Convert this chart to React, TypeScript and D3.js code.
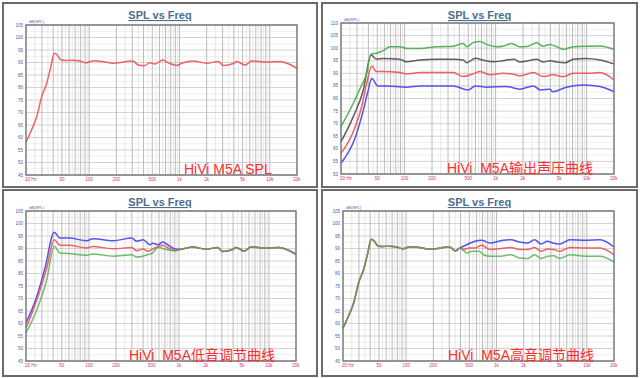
import React from 'react';
import * as d3 from 'd3';

type Pt = [number, number];

const TITLE = 'SPL vs Freq';
const FREQ_TICKS = [20, 50, 100, 200, 500, 1000, 2000, 5000, 10000, 20000];
const FREQ_TICK_LABELS = ['20 Hz', '50', '100', '200', '500', '1k', '2k', '5k', '10k', '20k'];
const Y_DOMAIN_A: [number, number] = [45, 105];
const Y_DOMAIN_B: [number, number] = [50, 110];

// Base response (panel 1)
const baseCurve: Pt[] = [
  [20, 58.1], [23, 63], [26.3, 68.3], [29.8, 76.3], [33.9, 81.7], [37.5, 88], [41.2, 93.7], [44, 93.1],
  [48.8, 91], [55, 90.8], [65, 90.9], [79, 90.6], [92, 89.9], [105, 90.5], [116, 90.7], [140, 90.4],
  [185, 89.7], [240, 90.2], [283, 90.6], [308, 90.5], [350, 89], [405, 88.7], [472, 89.9], [536, 89.4],
  [651, 91], [752, 89.9], [931, 88.8], [1059, 89.7], [1425, 90.6], [2000, 89.7], [2692, 90.4],
  [3057, 88.8], [3946, 89.6], [4300, 90.4], [5325, 89], [6310, 90.6], [9250, 90.2], [12980, 90.4],
  [16000, 89.5], [20000, 87.7],
];

// Panel 2: output SPL at four levels
const p2Green: Pt[] = [
  [20, 68.8], [27.3, 78.1], [32.4, 84], [38.3, 90], [42.7, 97.6], [49, 98], [58.3, 99], [69, 100.6],
  [88.7, 100.6], [105, 99.9], [148, 99.9], [225, 100.6], [343, 100.8], [441, 101.9], [481, 100.6],
  [569, 102.2], [673, 102.6], [797, 101.5], [1028, 100.6], [1200, 100.8], [1502, 101.9], [1838, 100.6],
  [2290, 100.8], [2835, 102.2], [3290, 100.8], [3960, 101.5], [4700, 100.6], [5550, 99.5], [7150, 100.6],
  [10000, 100.8], [14000, 100.9], [20000, 99.5],
];
const p2Black: Pt[] = [
  [20, 62.8], [27.3, 72.8], [35.2, 83.4], [42.7, 97.3], [49, 95.6], [58, 95.9], [88.7, 95.6], [105, 94.6],
  [148, 95.3], [225, 95.6], [343, 95.6], [441, 95.3], [481, 94.2], [600, 96], [720, 95.3], [950, 94.6],
  [1200, 95], [1600, 95.6], [1838, 94.5], [2290, 95], [2835, 95.6], [3350, 94.5], [3960, 95], [4700, 94.5],
  [5800, 94.2], [7150, 95.6], [10000, 95.9], [14000, 95.3], [20000, 93.7],
];
const p2Red: Pt[] = [
  [20, 58.2], [27.3, 66.8], [33.7, 76.7], [38.3, 86], [43.5, 92.9], [49, 90.7], [58, 90.7], [88.7, 90.3],
  [105, 89.7], [148, 90.3], [343, 90.3], [441, 88.7], [569, 89.8], [673, 90.7], [880, 89.4], [1200, 90],
  [1500, 89.8], [1838, 89], [2600, 90.3], [3350, 88.7], [4250, 89.4], [5550, 88.7], [7150, 90],
  [10000, 90], [14000, 90.3], [20000, 87.4],
];
const p2Blue: Pt[] = [
  [20, 54.3], [28.5, 64.2], [35.2, 75.4], [39.9, 83.4], [43.5, 87.9], [51, 85], [63, 85], [105, 84.5],
  [148, 85], [343, 85], [500, 83.4], [600, 85], [800, 84.5], [1300, 84.8], [1838, 83.7], [2600, 85],
  [3100, 83.4], [3960, 83.7], [4250, 82.7], [6000, 84.5], [9400, 85.4], [14000, 84.8], [20000, 82.7],
];

// Panel 3: bass adjustment
const p3BlueLow: Pt[] = [
  [20, 60.2], [26.4, 70.9], [32.5, 82.2], [41.2, 96.5], [47.6, 94.2], [60, 94.2], [94.4, 93.1], [111, 93.9],
  [187, 93.1], [299, 94.2], [339, 92.9], [401, 93.5], [477, 91.5], [508, 92.1], [590, 91.5], [658, 92.6],
  [762, 91.3], [905, 89.8],
];
const p3RedLow: Pt[] = [
  [20, 58.2], [26.4, 69.5], [34, 82.2], [41.2, 93.5], [47.6, 91.3], [60, 91.3], [94.4, 90.2], [111, 90.8],
  [187, 89.9], [299, 90.4], [339, 89.1], [401, 89.8], [450, 88.9], [540, 90.2], [658, 91.3], [762, 90.2],
  [905, 89.1],
];
const p3GreenLow: Pt[] = [
  [20, 56.2], [26.4, 65.5], [34, 77.5], [41.2, 90.9], [47.6, 88.2], [60, 88], [94.4, 87.3], [111, 87.8],
  [187, 86.9], [299, 87.5], [339, 86.6], [450, 87.5], [508, 88.2], [590, 90.5], [720, 89.6], [905, 89.1],
];

// Panel 4: treble adjustment
const p4BlueHigh: Pt[] = [
  [393, 90.2], [430, 90.9], [500, 92], [578, 92.9], [685, 93.3], [847, 92.2], [1142, 93.2], [1450, 93.5],
  [1800, 92.6], [2220, 92.2], [2640, 93.5], [3120, 91.8], [3680, 92.9], [4200, 92.2], [5000, 91.8],
  [6520, 93.5], [9600, 93.3], [14000, 93.5], [20000, 90.6],
];
const p4RedHigh: Pt[] = [
  [393, 90.2], [430, 89.6], [500, 90.2], [578, 90.2], [685, 91.3], [847, 89.6], [1142, 90], [1450, 90.4],
  [1800, 89.6], [2220, 89.6], [2640, 90.4], [3120, 88.9], [3680, 89.8], [4300, 89.6], [5000, 88.9],
  [6520, 90.4], [9600, 90.2], [14000, 90.2], [20000, 87.5],
];
const p4GreenHigh: Pt[] = [
  [393, 90.2], [420, 89.6], [470, 88.2], [540, 88.9], [640, 88.9], [720, 87.5], [847, 86.9], [1100, 86.9],
  [1450, 87.5], [1800, 86.2], [2220, 86], [2640, 87.5], [3120, 86], [3680, 86.9], [4300, 87.1],
  [5000, 86], [6520, 87.5], [9600, 86.9], [14000, 86.9], [20000, 84.6],
];

const LABEL1 = 'HiVi M5A SPL';
const LABEL2 = 'HiVi  M5A输出声压曲线';
const LABEL3 = 'HiVi  M5A低音调节曲线';
const LABEL4 = 'HiVi  M5A高音调节曲线';

const RED = '#f05858';
const GREEN = '#4fae4f';
const BLACK = '#555555';
const BLUE = '#4a4af0';

const tail = baseCurve.filter((d) => d[0] > 1000);
const head = baseCurve.filter((d) => d[0] <= 350);

type Series = { pts: Pt[]; color: string; opacity?: number };
type Panel = {
  box: [number, number, number, number];
  plot: [number, number, number, number];
  yDomain: [number, number];
  label: string;
  labelX: number;
  labelY: number;
  series: Series[];
};

const panels: Panel[] = [
  {
    box: [3, 3, 317, 187], plot: [26, 25, 297, 175], yDomain: Y_DOMAIN_A, label: LABEL1, labelX: 184, labelY: 174,
    series: [{ pts: baseCurve, color: RED }],
  },
  {
    box: [322, 3, 637, 187], plot: [341, 23, 614, 174], yDomain: Y_DOMAIN_B, label: LABEL2, labelX: 447, labelY: 173,
    series: [
      { pts: p2Blue, color: BLUE }, { pts: p2Red, color: RED }, { pts: p2Black, color: BLACK }, { pts: p2Green, color: GREEN },
    ],
  },
  {
    box: [3, 190, 317, 376], plot: [26, 211, 296, 361], yDomain: Y_DOMAIN_A, label: LABEL3, labelX: 129, labelY: 360,
    series: [
      { pts: [...p3BlueLow, ...tail], color: BLUE },
      { pts: [...p3RedLow, ...tail], color: RED },
      { pts: [...p3GreenLow, ...tail], color: GREEN, opacity: 0.8 },
    ],
  },
  {
    box: [322, 190, 637, 376], plot: [343, 211, 614, 361], yDomain: Y_DOMAIN_A, label: LABEL4, labelX: 448, labelY: 360,
    series: [
      { pts: [...head, ...p4BlueHigh], color: BLUE },
      { pts: [...head, ...p4RedHigh], color: RED },
      { pts: [...head, ...p4GreenHigh], color: GREEN, opacity: 0.8 },
    ],
  },
];

function PanelView({ p }: { p: Panel }) {
  const [bx0, by0, bx1, by1] = p.box;
  const [px0, py0, px1, py1] = p.plot;
  const x = d3.scaleLog().domain([20, 20000]).range([px0, px1]);
  const y = d3.scaleLinear().domain(p.yDomain).range([py1, py0]);
  const majorY = d3.range(p.yDomain[0], p.yDomain[1] + 0.01, 5);
  const minorY = d3.range(p.yDomain[0] + 2.5, p.yDomain[1], 5);
  const vMajor: number[] = [];
  const vMinor: number[] = [];
  [10, 100, 1000, 10000].forEach((dec) => {
    for (let m = 1; m <= 9; m++) {
      const f = m * dec;
      if (f > 20 && f < 20000) vMajor.push(f);
      const h = (m + 0.5) * dec;
      if (h > 20 && h < 20000 && m >= 2) vMinor.push(h);
    }
  });
  const line = d3.line<Pt>().x((d) => x(d[0])).y((d) => y(d[1])).curve(d3.curveMonotoneX);
  const cx = (bx0 + bx1) / 2;
  return (
    <g>
      <rect x={bx0} y={by0} width={bx1 - bx0} height={by1 - by0} fill="#fff" stroke="#6a6a6a" strokeWidth={2} />
      <text x={cx} y={by0 + 16} textAnchor="middle" fontFamily="Liberation Sans, Arial, sans-serif" fontWeight="bold"
        fontSize={11} fill="#4d6e8e" textDecoration="underline">{TITLE}</text>
      {minorY.map((v) => (
        <line key={'my' + v} x1={px0} x2={px1} y1={y(v)} y2={y(v)} stroke="#ececec" strokeWidth={0.8} />
      ))}
      {vMinor.map((f) => (
        <line key={'vm' + f} x1={x(f)} x2={x(f)} y1={py0} y2={py1} stroke="#e2e2e2" strokeWidth={0.8} />
      ))}
      {majorY.map((v) => (
        <line key={'My' + v} x1={px0} x2={px1} y1={y(v)} y2={y(v)} stroke="#c8c8c8" strokeWidth={0.8} />
      ))}
      {vMajor.map((f) => (
        <line key={'vM' + f} x1={x(f)} x2={x(f)} y1={py0} y2={py1} stroke="#b4b4b4" strokeWidth={0.9} />
      ))}
      {p.series.map((s, i) => (
        <path key={i} d={line(s.pts) || ''} fill="none" stroke={s.color} strokeWidth={1.5} strokeOpacity={s.opacity ?? 0.95} />
      ))}
      <rect x={px0} y={py0} width={px1 - px0} height={py1 - py0} fill="none" stroke="#7a7a7a" strokeWidth={1.5} />
      {majorY.map((v) => (
        <text key={'yl' + v} x={px0 - 3} y={y(v) + 1.5} textAnchor="end" fontSize={4.5}
          fontFamily="Liberation Sans, Arial, sans-serif" fill="#3f62a8">{v}</text>
      ))}
      <text x={px0 + 3} y={py0 - 2} fontSize={4} fontFamily="Liberation Sans, Arial, sans-serif" fill="#3f62a8">dB(SPL)</text>
      {FREQ_TICKS.map((f, i) => (
        <text key={'xl' + f} x={i === 0 ? px0 - 1 : x(f)} y={py1 + 6} textAnchor={i === 0 ? 'start' : 'middle'} fontSize={4.5}
          fontFamily="Liberation Sans, Arial, sans-serif" fill="#c8347a">{FREQ_TICK_LABELS[i]}</text>
      ))}
      <text x={p.labelX} y={p.labelY} fontSize={14} fill="#ff2d2d"
        fontFamily="Liberation Sans, 'Noto Sans CJK SC', sans-serif" style={{ whiteSpace: 'pre' }}>{p.label}</text>
    </g>
  );
}

export default function App() {
  return (
    <svg width={641} height={378} style={{ position: 'absolute', left: 0, top: 0, background: '#fff' }}>
      <rect x={0} y={0} width={641} height={378} fill="#fff" />
      {panels.map((p, i) => <PanelView key={i} p={p} />)}
    </svg>
  );
}
